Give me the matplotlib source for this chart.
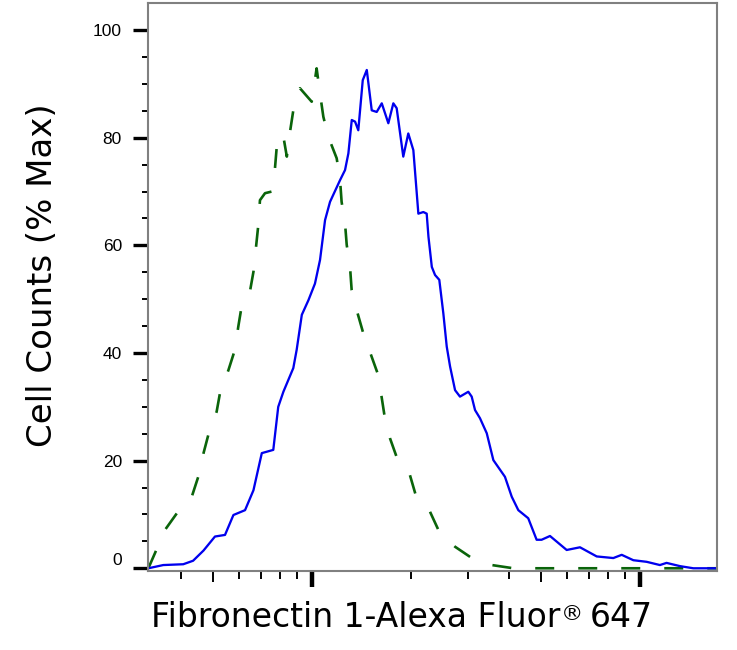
import numpy as np
import matplotlib
matplotlib.use("Agg")
import matplotlib.pyplot as plt
from matplotlib.ticker import FixedLocator, LogLocator, NullLocator, NullFormatter

# stained sample (blue, solid)
stained_x = [317, 352, 405, 434, 467, 506, 543, 576, 625, 663, 703, 762, 789, 818,
             877, 898, 931, 975, 1021, 1058, 1096, 1135, 1217, 1261, 1291, 1322,
             1353, 1384, 1428, 1469, 1521, 1575, 1632, 1709, 1770, 1812, 1898,
             1966, 2037, 2110, 2185, 2237, 2265, 2319, 2372, 2444, 2514, 2575,
             2636, 2730, 2826, 2996, 3068, 3141, 3251, 3410, 3572, 3875, 4064,
             4256, 4563, 4840, 5012, 5316, 5977, 6562, 7380, 8291, 8796, 9542,
             10480, 11500, 12050, 13240, 14540, 17170]
stained_y = [0.0, 0.6, 0.75, 1.4, 3.3, 5.9, 6.2, 9.9, 10.8, 14.5, 21.4, 22.0, 30.0,
             32.8, 37.2, 40.6, 47.1, 49.8, 52.9, 57.3, 64.7, 68.1, 72.1, 74.0,
             77.1, 83.3, 83.0, 81.4, 90.7, 92.6, 85.1, 84.8, 86.4, 82.7, 86.4,
             85.5, 76.5, 80.8, 77.7, 65.9, 66.2, 65.9, 61.6, 56.0, 54.5, 53.6,
             47.4, 41.2, 37.5, 33.1, 31.9, 32.8, 31.9, 29.4, 27.9, 25.1, 20.1,
             17.0, 13.3, 10.8, 9.3, 5.3, 5.3, 6.0, 3.4, 3.9, 2.2, 1.9, 2.5, 1.5,
             1.2, 0.6, 1.0, 0.4, 0.0, 0.0]

# isotype control (green, dashed)
control_x = [317, 332, 356, 387, 430, 450, 467, 483, 512, 525, 556, 582, 596, 611,
             648, 663, 686, 694, 719, 753, 771, 780, 815, 838, 857, 877, 919, 998,
             1033, 1058, 1083, 1121, 1189, 1217, 1231, 1261, 1276, 1306, 1321,
             1368, 1433, 1502, 1592, 1668, 1728, 1833, 1989, 2085, 2290, 2455,
             2730, 3105, 3533, 4112, 4732, 17170]
control_y = [0.0, 2.8, 7.1, 10.2, 13.3, 17.0, 21.4, 24.8, 29.1, 32.8, 36.8, 40.6,
             44.9, 48.9, 51.7, 55.1, 63.8, 68.4, 69.7, 70.0, 74.3, 78.0, 80.8,
             76.5, 81.1, 85.1, 89.2, 86.7, 92.9, 88.2, 83.9, 80.2, 76.2, 72.4,
             68.1, 64.1, 60.1, 56.0, 51.7, 48.0, 43.7, 40.2, 35.9, 27.9, 24.2,
             19.8, 17.3, 13.0, 10.5, 6.5, 4.0, 1.7, 0.6, 0.0, 0.0, 0.0]

y_ticks = [0, 20, 40, 60, 80, 100]
x_label_parts = ["Fibronectin 1-Alexa Fluor", "®", "647"]
y_label = "Cell Counts (% Max)"

W, H = 737, 650
fig = plt.figure(figsize=(W / 100, H / 100), dpi=100)
ax = fig.add_axes([148 / W, 1 - 570.7 / H, 569 / W, 568 / H])

ax.plot(control_x, control_y, color='#0a640a', lw=1.9, linestyle=(0, (7.2, 9.1)))
ax.plot(stained_x, stained_y, color='#0000ee', lw=1.65)

ax.set_xscale('log')
ax.set_xlim(10 ** 2.5, 17170)
ax.set_ylim(-0.45, 105.1)

# grey box
for s in ax.spines.values():
    s.set_color('#808080')
    s.set_linewidth(1.5)

# y ticks
ax.yaxis.set_major_locator(FixedLocator(y_ticks))
ax.yaxis.set_minor_locator(FixedLocator(np.arange(5, 105, 5)))
ax.set_yticklabels([str(v) for v in y_ticks], fontfamily='Liberation Sans', fontsize=12.5)
ax.tick_params(axis='y', which='major', length=10.8, width=2.4, color='black', pad=8)
ax.tick_params(axis='y', which='minor', length=4.3, width=1.4, color='black')
ax.yaxis.get_major_ticks()[0].label1.set_verticalalignment('bottom')

# x ticks, no labels
ax.xaxis.set_major_locator(FixedLocator([1000, 10000]))
ax.xaxis.set_minor_locator(LogLocator(base=10, subs=[2, 3, 4, 6, 7, 8, 9]))
ax.xaxis.set_major_formatter(NullFormatter())
ax.xaxis.set_minor_formatter(NullFormatter())
ax.tick_params(axis='x', which='major', length=11.3, width=3.2, color='black')
ax.tick_params(axis='x', which='minor', length=6.0, width=1.4, color='black')

# slightly longer ticks at the 5s
sec = ax.secondary_xaxis('bottom', functions=(lambda v: v, lambda v: v))
sec.xaxis.set_major_locator(FixedLocator([500, 5000]))
sec.xaxis.set_minor_locator(NullLocator())
sec.xaxis.set_major_formatter(NullFormatter())
sec.tick_params(axis='x', which='major', length=7.7, width=1.4, color='black')
sec.spines['bottom'].set_visible(False)

# x label built from three pieces so the (R) sign can be raised and sized
renderer = fig.canvas.get_renderer()
base_y = 1 - 626.7 / H
t1 = fig.text(150.7 / W, base_y, x_label_parts[0], fontfamily='DejaVu Sans',
              fontsize=23.8, ha='left', va='baseline')
x1 = t1.get_window_extent(renderer).x1
t2 = fig.text((x1 + 1) / W, base_y + 6.5 / H, x_label_parts[1], fontfamily='DejaVu Sans',
              fontsize=16, ha='left', va='baseline')
x2 = t2.get_window_extent(renderer).x1
fig.text((x2 + 6) / W, base_y, x_label_parts[2], fontfamily='DejaVu Sans',
         fontsize=23.8, ha='left', va='baseline')

fig.text(51.7 / W, 1 - 275.5 / H, y_label, fontfamily='DejaVu Sans',
         fontsize=24.5, rotation=90, rotation_mode='anchor',
         ha='center', va='baseline')

fig.savefig('out.png', dpi=100)
